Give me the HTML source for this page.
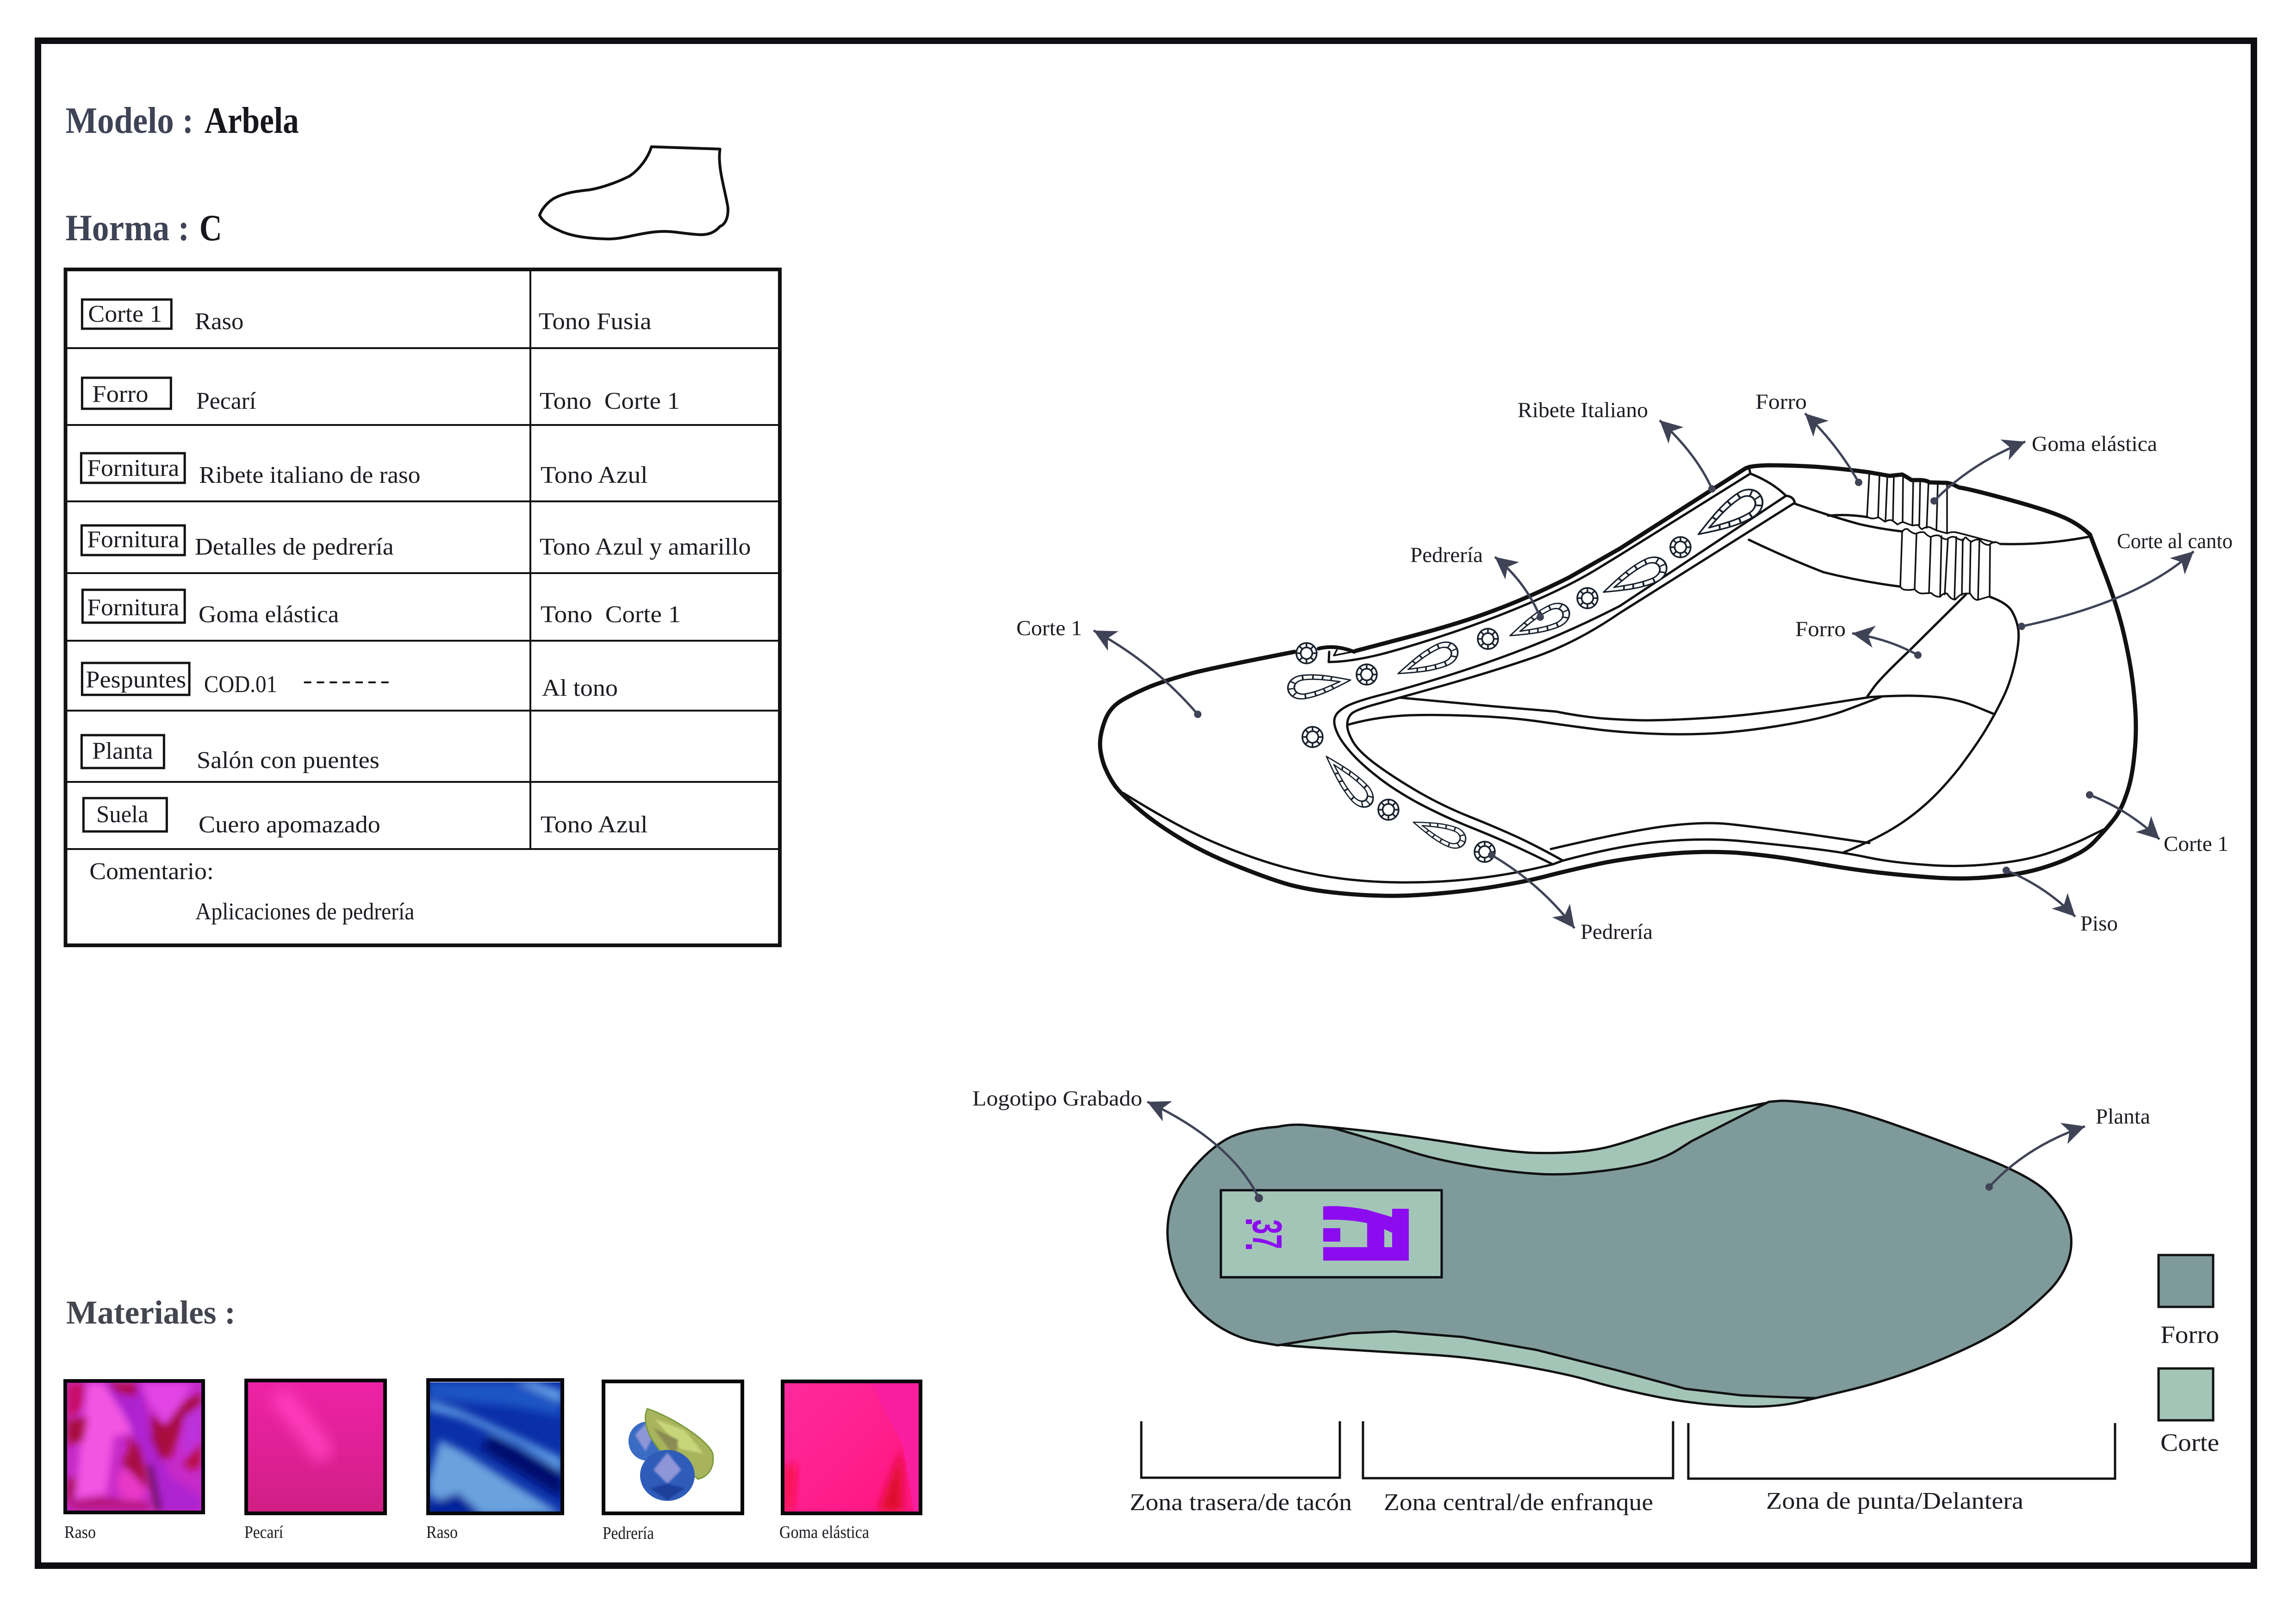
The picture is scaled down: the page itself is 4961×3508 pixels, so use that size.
<!DOCTYPE html>
<html><head><meta charset="utf-8"><title>Arbela</title>
<style>
html,body{margin:0;padding:0;background:#fff}
svg{display:block}
text{font-family:"Liberation Serif",serif;fill:#1c1c22}
.t{font-size:52px}
.l{font-size:47px}
.h{font-size:80px;font-weight:bold;fill:#3f4356}
.m{font-size:38px}
.o{fill:none;stroke:#111;stroke-linecap:round;stroke-linejoin:round;stroke-width:5}
.e{fill:none;stroke:#111;stroke-linecap:round;stroke-linejoin:round;stroke-width:3.5}
.a{fill:none;stroke:#3f4356;stroke-width:5;marker-end:url(#ah)}
.d{fill:#3f4356}
.b{fill:none;stroke:#111;stroke-width:5}
</style></head><body>
<svg xmlns="http://www.w3.org/2000/svg" width="4961" height="3508" viewBox="0 0 4961 3508">
<defs>
<marker id="ah" markerUnits="userSpaceOnUse" markerWidth="60" markerHeight="60" refX="48" refY="28" orient="auto">
<path d="M48,28 L0,4 L13,28 L0,52Z" fill="#3f4356"/>
</marker>
<g id="gem" fill="#fff" stroke="#17202c" stroke-width="3.5">
<circle r="22"/><circle r="12.5"/>
<path d="M12.5,0H22M-12.5,0H-22M0,12.5V22M0,-12.5V-22M9,9L15.5,15.5M-9,9L-15.5,15.5M9,-9L15.5,-15.5M-9,-9L-15.5,-15.5"/>
</g>
<g id="drop" fill="#fff" stroke="#17202c" stroke-width="4" stroke-linejoin="round">
<path d="M0,0 C40,-18 80,-36 118,-36 C165,-34 165,34 118,36 C80,36 40,18 0,0Z"/>
<path fill="none" d="M26,0 C55,-10 85,-22 116,-22 C145,-20 145,20 116,22 C85,22 55,10 26,0Z"/>
<path d="M48,-7L44,-17M68,-14L64,-26M90,-20L88,-33M114,-22V-36M134,-14L146,-24M140,0H154M134,14L146,24M114,22V36M90,20L88,33M68,14L64,26M48,7L44,17"/>
</g>
<filter id="bl" x="-30%" y="-30%" width="160%" height="160%"><feGaussianBlur stdDeviation="9"/></filter>
<filter id="bl2" x="-30%" y="-30%" width="160%" height="160%"><feGaussianBlur stdDeviation="16"/></filter>
<filter id="bl3" x="-30%" y="-30%" width="160%" height="160%"><feGaussianBlur stdDeviation="24"/></filter>
<filter id="bl4" x="-30%" y="-30%" width="160%" height="160%"><feGaussianBlur stdDeviation="2"/></filter>
<linearGradient id="pec" x1="0" y1="0" x2="0" y2="1"><stop offset="0" stop-color="#ee22a6"/><stop offset="1" stop-color="#d01f85"/></linearGradient>
<linearGradient id="gom" x1="0" y1="0" x2="1" y2="1"><stop offset="0" stop-color="#ff2a9c"/><stop offset="1" stop-color="#ff1480"/></linearGradient>
<clipPath id="c1"><rect x="145" y="2987" width="290" height="276"/></clipPath>
<clipPath id="c2"><rect x="536" y="2986" width="292" height="279"/></clipPath>
<clipPath id="c3"><rect x="929" y="2986" width="282" height="279"/></clipPath>
<clipPath id="c5"><rect x="1695" y="2988" width="290" height="277"/></clipPath>
</defs>

<!-- page border -->
<rect x="82" y="88" width="4788" height="3294" fill="none" stroke="#0d0d12" stroke-width="14"/>

<g transform="matrix(.9945 0 0 1 .33 0)">
<!-- headers -->
<text class="h" x="142" y="287" textLength="278" lengthAdjust="spacingAndGlyphs">Modelo :</text>
<text class="h" x="444" y="287" textLength="205" lengthAdjust="spacingAndGlyphs" style="fill:#16161c">Arbela</text>
<text class="h" x="142" y="519" textLength="269" lengthAdjust="spacingAndGlyphs">Horma :</text>
<text class="h" x="433" y="519" textLength="49" lengthAdjust="spacingAndGlyphs" style="fill:#16161c">C</text>

<!-- last -->
<path class="o" style="stroke-width:6" d="M1415,317 L1564,322 C1558,360 1575,410 1581,447 C1583,470 1575,485 1564,489 C1550,505 1535,507 1521,507 C1480,505 1460,497 1422,501 C1380,505 1350,518 1314,516 C1270,515 1235,508 1215,498 C1195,490 1178,478 1172,465 C1178,447 1195,433 1204,428 C1230,415 1255,413 1281,410 C1310,405 1345,392 1368,380 C1390,365 1408,340 1415,317Z"/>

<!-- table -->
<g fill="none" stroke="#111">
<rect x="142" y="582" width="1552" height="1460" stroke-width="8"/>
<path stroke-width="4" d="M142,752H1694M142,918H1694M142,1083H1694M142,1238H1694M142,1384H1694M142,1535H1694M142,1689H1694M142,1834H1694M1152,582V1834"/>
<g stroke-width="5">
<rect x="178" y="647" width="194" height="63"/>
<rect x="178" y="816" width="193" height="67"/>
<rect x="176" y="979" width="225" height="64"/>
<rect x="177" y="1135" width="224" height="64"/>
<rect x="179" y="1274" width="222" height="71"/>
<rect x="178" y="1432" width="233" height="69"/>
<rect x="177" y="1588" width="179" height="71"/>
<rect x="181" y="1724" width="181" height="72"/>
</g>
<path stroke-width="4" stroke-dasharray="16 12" d="M660,1474H847"/>
</g>
<text class="t" x="191" y="695" textLength="161" lengthAdjust="spacingAndGlyphs">Corte 1</text>
<text class="t" x="200" y="868" textLength="122" lengthAdjust="spacingAndGlyphs">Forro</text>
<text class="t" x="189" y="1028" textLength="200" lengthAdjust="spacingAndGlyphs">Fornitura</text>
<text class="t" x="189" y="1182" textLength="200" lengthAdjust="spacingAndGlyphs">Fornitura</text>
<text class="t" x="189" y="1329" textLength="200" lengthAdjust="spacingAndGlyphs">Fornitura</text>
<text class="t" x="186" y="1485" textLength="218" lengthAdjust="spacingAndGlyphs">Pespuntes</text>
<text class="t" x="200" y="1639" textLength="132" lengthAdjust="spacingAndGlyphs">Planta</text>
<text class="t" x="209" y="1776" textLength="113" lengthAdjust="spacingAndGlyphs">Suela</text>
<text class="t" x="423" y="711" textLength="106" lengthAdjust="spacingAndGlyphs">Raso</text>
<text class="t" x="426" y="883" textLength="130" lengthAdjust="spacingAndGlyphs">Pecarí</text>
<text class="t" x="432" y="1043" textLength="481" lengthAdjust="spacingAndGlyphs">Ribete italiano de raso</text>
<text class="t" x="423" y="1198" textLength="432" lengthAdjust="spacingAndGlyphs">Detalles de pedrería</text>
<text class="t" x="431" y="1344" textLength="305" lengthAdjust="spacingAndGlyphs">Goma elástica</text>
<text class="t" x="443" y="1495" textLength="159" lengthAdjust="spacingAndGlyphs">COD.01</text>
<text class="t" x="427" y="1659" textLength="397" lengthAdjust="spacingAndGlyphs">Salón con puentes</text>
<text class="t" x="431" y="1798" textLength="395" lengthAdjust="spacingAndGlyphs">Cuero apomazado</text>
<text class="t" x="1170" y="711" textLength="245" lengthAdjust="spacingAndGlyphs">Tono Fusia</text>
<text class="t" x="1172" y="883" textLength="305" lengthAdjust="spacingAndGlyphs" xml:space="preserve">Tono  Corte 1</text>
<text class="t" x="1174" y="1043" textLength="233" lengthAdjust="spacingAndGlyphs">Tono Azul</text>
<text class="t" x="1172" y="1198" textLength="459" lengthAdjust="spacingAndGlyphs">Tono Azul y amarillo</text>
<text class="t" x="1174" y="1344" textLength="305" lengthAdjust="spacingAndGlyphs" xml:space="preserve">Tono  Corte 1</text>
<text class="t" x="1177" y="1503" textLength="165" lengthAdjust="spacingAndGlyphs">Al tono</text>
<text class="t" x="1174" y="1798" textLength="233" lengthAdjust="spacingAndGlyphs">Tono Azul</text>
<text class="t" x="194" y="1899" textLength="270" lengthAdjust="spacingAndGlyphs">Comentario:</text>
<text class="t" x="424" y="1986" textLength="476" lengthAdjust="spacingAndGlyphs">Aplicaciones de pedrería</text>
</g>

<!-- materials -->
<text x="143" y="2859" textLength="366" lengthAdjust="spacingAndGlyphs" style="font-size:72px;font-weight:bold;fill:#43464f">Materiales :</text>

<g clip-path="url(#c1)">
<g transform="translate(130,2960) scale(.3333)">
<rect x="40" y="80" width="880" height="835" fill="#c62ac8"/>
<g filter="url(#bl3)">
<path d="M180,82 L300,82 L480,400 L350,430 L300,800 L100,830 L130,500Z" fill="#f254e2"/>
<path d="M44,82 L160,82 L140,250 L44,320Z" fill="#c81068"/>
<path d="M44,330 L180,300 L150,460 L44,480Z" fill="#a8083c"/>
<path d="M44,700 L110,700 L80,850 L44,870Z" fill="#a80a48"/>
<path d="M280,82 L520,82 L600,450 L720,700 L920,830 L915,910 L640,910 L560,600 L420,300Z" fill="#ae22d0"/>
<path d="M300,82 L500,82 L490,170 L380,150Z" fill="#b00848"/>
<path d="M520,82 L850,82 L800,200 L680,350 L580,220Z" fill="#e244e4"/>
<path d="M590,280 L680,360 L800,200 L915,150 L915,210 L800,320 L720,560 L650,580 L590,450Z" fill="#a80840"/>
<path d="M800,300 L915,230 L915,440 L800,560Z" fill="#bc30dc"/>
<path d="M800,600 L915,470 L915,620 L840,650Z" fill="#b80a48"/>
<path d="M400,620 L450,500 L440,420 L520,500 L570,780 L450,650Z" fill="#a80a40"/>
<path d="M360,740 L400,630 L460,660 L560,780 L520,850 L410,840Z" fill="#e838c8"/>
<path d="M50,900 L100,840 L250,815 L400,840 L560,850 L590,910Z" fill="#b81480"/>
<path d="M620,910 L560,600 L600,620 L660,910Z" fill="#5a0a30"/>
</g>
</g>
</g>
<rect x="141" y="2983" width="298" height="284" fill="none" stroke="#08080c" stroke-width="8"/>

<g clip-path="url(#c2)">
<rect x="536" y="2986" width="292" height="279" fill="url(#pec)"/>
<path d="M600,3010 C640,3060 680,3100 700,3150" stroke="#ff3cbc" stroke-width="46" fill="none" filter="url(#bl2)"/>
</g>
<rect x="532" y="2982" width="300" height="287" fill="none" stroke="#08080c" stroke-width="8"/>

<g clip-path="url(#c3)">
<rect x="929" y="2986" width="282" height="279" fill="#0a2fa8"/>
<g filter="url(#bl)">
<path d="M925,2986 L1100,2986 L1210,3030 L1210,3060 L1120,3040 L925,3020Z" fill="#1a55c4"/>
<path d="M925,3045 L1000,3065 L1120,3120 L1215,3180 L1215,3150 L1100,3095 L990,3045 L925,3025Z" fill="#5f9ee4"/>
<path d="M925,3200 L950,3110 L1000,3135 L1110,3205 L1215,3270 L1040,3275 L925,3230Z" fill="#6aa2de"/>
<path d="M1110,2984 L1215,3030 L1215,3005 L1150,2984Z" fill="#6aa6ea"/>
<path d="M1040,3130 L1215,3235 L1215,3180 L1060,3100Z" fill="#03116e"/>
<path d="M925,3250 L990,3225 L1040,3270 L925,3275Z" fill="#06209a"/>
</g>
</g>
<rect x="925" y="2981" width="290" height="288" fill="none" stroke="#08080c" stroke-width="8"/>

<rect x="1304" y="2984" width="300" height="285" fill="#fff" stroke="#08080c" stroke-width="8"/>
<ellipse cx="1398" cy="3113" rx="40" ry="42" fill="#3a6cc4"/>
<path d="M1372,3100 L1395,3075 L1412,3100 L1395,3135Z" fill="#8f96d8" filter="url(#bl4)"/>
<path d="M1399,3043 C1450,3060 1530,3110 1540,3140 C1545,3170 1530,3190 1508,3195 C1480,3170 1440,3160 1412,3114 C1395,3090 1390,3060 1399,3043Z" fill="#a8b45c" stroke="#7a9a3c" stroke-width="3"/>
<path d="M1415,3065 L1480,3090 L1520,3140 L1470,3130Z" fill="#c8d67a" filter="url(#bl4)"/>
<path d="M1412,3085 L1465,3110 L1460,3150Z" fill="#8a8c52" filter="url(#bl4)"/>
<ellipse cx="1442" cy="3187" rx="59" ry="55" fill="#2f5cb8"/>
<path d="M1442,3138 L1472,3175 L1442,3205 L1412,3175Z" fill="#8f96d8" filter="url(#bl4)"/>
<path d="M1405,3215 L1442,3205 L1480,3215 L1442,3240Z" fill="#1d3f9a" filter="url(#bl4)"/>

<g clip-path="url(#c5)">
<rect x="1695" y="2988" width="290" height="277" fill="url(#gom)"/>
<path d="M1695,3265 L1695,3170 L1722,3160 L1712,3265Z" fill="#f8104a" filter="url(#bl)"/>
<path d="M1897,3265 L1948,3127 L1952,3265Z" fill="#e00a2e" filter="url(#bl)"/>
<path d="M1880,2988 L1950,3120 L1975,3265 L1985,3265 L1985,2988Z" fill="#f91e9e"/>
</g>
<rect x="1691" y="2984" width="298" height="285" fill="none" stroke="#08080c" stroke-width="8"/>

<text class="m" x="139" y="3322" textLength="68" lengthAdjust="spacingAndGlyphs">Raso</text>
<text class="m" x="528" y="3322" textLength="84" lengthAdjust="spacingAndGlyphs">Pecarí</text>
<text class="m" x="921" y="3322" textLength="68" lengthAdjust="spacingAndGlyphs">Raso</text>
<text class="m" x="1302" y="3324" textLength="111" lengthAdjust="spacingAndGlyphs">Pedrería</text>
<text class="m" x="1684" y="3322" textLength="194" lengthAdjust="spacingAndGlyphs">Goma elástica</text>

<!-- shoe outer -->
<path class="o" style="stroke-width:9" d="M2797,1408 Q2643,1438 2584,1452 Q2526,1467 2485,1483 Q2445,1500 2422,1514 Q2398,1529 2388,1555 Q2378,1581 2377,1603 Q2376,1625 2386,1654 Q2398,1683 2412,1701 Q2427,1720 2462,1749 Q2497,1779 2552,1812 Q2607,1845 2676,1872 Q2746,1900 2786,1911 Q2827,1922 2882,1928 Q2937,1934 2992,1935 Q3047,1936 3120,1929 Q3193,1922 3248,1912 Q3303,1903 3351,1890 Q3399,1878 3450,1867 Q3500,1856 3588,1846 Q3676,1837 3753,1842 Q3830,1848 3914,1863 Q3999,1878 4061,1885 Q4123,1892 4185,1896 Q4248,1900 4306,1894 Q4365,1889 4409,1876 Q4453,1863 4482,1848 Q4512,1834 4530,1813 Q4549,1793 4565,1773 Q4582,1753 4594,1718 Q4607,1683 4612,1628 Q4618,1573 4612,1511 Q4607,1449 4592,1383 Q4578,1317 4547,1236 L4516,1155"/>
<path class="o" style="stroke-width:9" d="M4516,1155 Q4490,1130 4453,1115 Q4417,1100 4336,1078 Q4255,1056 4233,1053 L4219,1046 L4207,1043 L4170,1042 Q4160,1037 4150,1037 L4130,1037 Q4120,1030 4110,1025 Q4100,1026 4083,1028 L4037,1020 Q3977,1012 3920,1008 Q3867,1005 3820,1005 Q3790,1006 3779,1009 L3771,1012 L3702,1056 L3500,1185 L3391,1247 Q3303,1291 3230,1318 Q3157,1346 3043,1376 L2929,1406"/>
<path class="o" style="stroke-width:8" d="M2849,1401 Q2885,1392 2926,1408"/>

<!-- ribete -->
<path class="o" d="M2872,1408 L2871,1430 Q2915,1430 2981,1414 Q3047,1397 3139,1366 Q3230,1335 3311,1300 Q3391,1265 3446,1232 L3500,1199 L3782,1023"/>
<path class="e" d="M2889,1403 L2882,1416 L2922,1408"/>
<path class="o" d="M3779,1009 L3782,1023 Q3830,1042 3859,1071 Q3875,1072 3878,1086"/>
<path class="o" d="M3859,1071 L3500,1309 Q3406,1357 3318,1392 Q3230,1427 3139,1456 Q3047,1485 2988,1500 Q2929,1515 2909,1526 Q2889,1537 2885,1548 Q2880,1559 2887,1577 Q2893,1595 2915,1621 Q2937,1647 2974,1676 Q3010,1705 3065,1735 Q3120,1764 3175,1786 Q3230,1808 3267,1825 Q3303,1841 3355,1867"/>
<path class="o" d="M3878,1086 L3500,1324 Q3410,1386 3320,1418 Q3230,1449 3128,1478 Q3025,1507 2977,1520 Q2929,1533 2920,1542 Q2911,1551 2911,1566 Q2911,1581 2924,1603 Q2937,1625 2977,1654 Q3017,1683 3069,1713 Q3120,1742 3175,1764 Q3230,1786 3274,1806 Q3318,1826 3377,1859"/>

<!-- window lines -->
<path class="o" d="M3025,1507 L3230,1526 L3362,1537 Q3406,1546 3453,1551 Q3500,1555 3555,1556 Q3610,1556 3702,1550 Q3793,1544 3916,1525 L4039,1506 Q4065,1504 4105,1503 Q4145,1502 4189,1506 Q4233,1511 4271,1527 L4310,1543"/>
<path class="o" d="M2911,1566 Q2973,1548 3046,1545 Q3120,1543 3194,1547 Q3267,1550 3329,1559 Q3391,1568 3446,1575 Q3500,1582 3574,1585 Q3647,1588 3720,1583 Q3793,1577 3866,1564 Q3940,1551 3980,1537 Q4021,1522 4065,1505"/>
<path class="o" d="M4248,1284 L4123,1408 Q4065,1463 4050,1483 L4035,1504"/>
<path class="o" d="M4299,1289 Q4336,1302 4347,1320 Q4358,1339 4361,1361 Q4364,1383 4354,1430 Q4343,1478 4326,1511 Q4310,1544 4290,1577 Q4270,1610 4234,1658 Q4197,1705 4160,1738 Q4123,1771 4081,1795 Q4039,1819 3984,1841"/>
<path class="o" d="M3351,1834 Q3500,1799 3588,1786 Q3676,1774 3735,1780 Q3793,1786 3916,1803 L4039,1821"/>
<path class="o" d="M3377,1859 Q3500,1826 3588,1818 Q3676,1810 3753,1816 Q3830,1823 3907,1832 Q3984,1841 4035,1852 Q4087,1863 4160,1868 Q4233,1874 4306,1866 Q4380,1859 4431,1841 Q4483,1823 4516,1806 L4549,1790"/>
<path class="o" d="M2427,1713 Q2533,1779 2606,1812 Q2680,1845 2753,1867 Q2827,1889 2900,1898 Q2973,1907 3046,1906 Q3120,1906 3193,1897 Q3267,1889 3355,1867 L3377,1859"/>

<!-- collar -->
<path class="o" d="M3878,1088 Q3955,1115 4017,1132 Q4060,1142 4110,1148"/>
<path class="o" d="M3950,1114 Q3990,1110 4035,1117"/>
<path class="o" d="M4322,1175 Q4417,1178 4516,1159"/>
<path class="o" d="M3779,1166 Q3860,1205 3940,1236 Q4020,1256 4105,1267"/>

<!-- elastics -->
<path class="e" d="M4035,1117 Q4047,1123 4058,1117 Q4066,1122 4073,1127 Q4081,1122 4088,1124 Q4094,1128 4100,1133 Q4107,1128 4113,1128 Q4122,1132 4132,1135 L4145,1134 Q4150,1143 4153,1143 Q4162,1137 4170,1139 L4185,1146 L4207,1152"/>
<path class="e" d="M4039,1023L4034,1117M4061,1026L4058,1118M4078,1028L4074,1126M4092,1030L4090,1125M4112,1026L4111,1128M4134,1037L4132,1135M4149,1037L4147,1134M4167,1040L4163,1140M4187,1044L4184,1146M4207,1045L4207,1152"/>
<path class="e" d="M4110,1148 Q4116,1141 4122,1143 Q4131,1152 4140,1153 Q4149,1148 4158,1150 Q4165,1158 4172,1160 Q4181,1155 4190,1157 Q4199,1165 4207,1165 Q4215,1158 4223,1160 Q4233,1166 4242,1167 Q4245,1160 4248,1161 Q4254,1168 4260,1170 Q4269,1164 4278,1166 Q4288,1178 4298,1177 Q4306,1170 4313,1171 L4322,1175"/>
<path class="e" d="M4207,1152 Q4217,1148 4227,1150 L4247,1155 L4310,1172"/>
<path class="e" d="M4106,1267 Q4110,1274 4117,1274 Q4127,1275 4137,1273 Q4145,1282 4153,1282 L4173,1281 Q4182,1290 4192,1289 Q4200,1280 4207,1282 Q4216,1296 4225,1295 Q4236,1282 4247,1282 L4257,1282 Q4265,1296 4273,1296 L4283,1293 L4300,1288"/>
<path class="e" d="M4110,1148L4106,1267M4141,1153L4137,1273M4172,1160L4168,1281M4195,1158L4192,1289M4209,1163L4202,1284M4227,1160L4223,1295M4241,1165L4239,1285M4258,1170L4256,1282M4277,1166L4274,1295M4300,1177L4299,1288"/>

<!-- gems -->
<use href="#gem" x="3631" y="1182"/><use href="#gem" x="3430" y="1292"/><use href="#gem" x="3215" y="1380"/>
<use href="#gem" x="2953" y="1457"/><use href="#gem" x="2823" y="1411"/><use href="#gem" x="2836" y="1592"/>
<use href="#gem" x="3000" y="1749"/><use href="#gem" x="3208" y="1840"/>
<use href="#drop" transform="translate(3670,1154) rotate(-31.8) scale(1.03,.85)"/>
<use href="#drop" transform="translate(3465,1279) rotate(-24.5) scale(.96,.75)"/>
<use href="#drop" transform="translate(3263,1373) rotate(-24) scale(.9,.7)"/>
<use href="#drop" transform="translate(3021,1455) rotate(-23) scale(.9,.7)"/>
<use href="#drop" transform="translate(2918,1469) rotate(171.6) scale(.89,.7)"/>
<use href="#drop" transform="translate(2866,1634) rotate(47.8) scale(.92,.65)"/>
<use href="#drop" transform="translate(3054,1776) rotate(21) scale(.78,.62)"/>

<!-- arrows -->
<path class="a" d="M2588,1543 Q2490,1430 2363,1362"/><circle class="d" cx="2588" cy="1543" r="8"/>
<path class="a" d="M3699,1056 Q3665,980 3586,908"/><circle class="d" cx="3699" cy="1056" r="8"/>
<path class="a" d="M4016,1042 Q3970,960 3900,893"/><circle class="d" cx="4016" cy="1042" r="8"/>
<path class="a" d="M4179,1082 Q4260,1000 4376,954"/><circle class="d" cx="4179" cy="1082" r="8"/>
<path class="a" d="M3328,1333 Q3295,1255 3230,1203"/><circle class="d" cx="3328" cy="1333" r="8"/>
<path class="a" d="M4368,1353 Q4620,1300 4740,1191"/><circle class="d" cx="4368" cy="1353" r="8"/>
<path class="a" d="M4144,1415 Q4080,1380 4002,1368"/><circle class="d" cx="4144" cy="1415" r="8"/>
<path class="a" d="M4515,1717 Q4600,1750 4666,1813"/><circle class="d" cx="4515" cy="1717" r="8"/>
<path class="a" d="M4335,1880 Q4420,1915 4484,1980"/><circle class="d" cx="4335" cy="1880" r="8"/>
<path class="a" d="M3223,1847 Q3330,1910 3402,2005"/><circle class="d" cx="3223" cy="1847" r="8"/>

<text class="l" x="3279" y="901" textLength="282" lengthAdjust="spacingAndGlyphs">Ribete Italiano</text>
<text class="l" x="3793" y="883" textLength="111" lengthAdjust="spacingAndGlyphs">Forro</text>
<text class="l" x="4390" y="974" textLength="271" lengthAdjust="spacingAndGlyphs">Goma elástica</text>
<text class="l" x="4574" y="1184" textLength="250" lengthAdjust="spacingAndGlyphs">Corte al canto</text>
<text class="l" x="3047" y="1214" textLength="157" lengthAdjust="spacingAndGlyphs">Pedrería</text>
<text class="l" x="2196" y="1372" textLength="142" lengthAdjust="spacingAndGlyphs">Corte 1</text>
<text class="l" x="3879" y="1374" textLength="109" lengthAdjust="spacingAndGlyphs">Forro</text>
<text class="l" x="4675" y="1838" textLength="140" lengthAdjust="spacingAndGlyphs">Corte 1</text>
<text class="l" x="4495" y="2010" textLength="81" lengthAdjust="spacingAndGlyphs">Piso</text>
<text class="l" x="3415" y="2028" textLength="156" lengthAdjust="spacingAndGlyphs">Pedrería</text>
<text class="l" x="2101" y="2388" textLength="367" lengthAdjust="spacingAndGlyphs">Logotipo Grabado</text>
<text class="l" x="4528" y="2427" textLength="118" lengthAdjust="spacingAndGlyphs">Planta</text>

<!-- sole -->
<path fill="#a3c5b8" stroke="#111" stroke-width="5" stroke-linejoin="round" d="M2818,2430 Q2892,2436 2972,2445 Q3053,2455 3153,2471 Q3253,2487 3306,2490 Q3360,2492 3407,2488 Q3454,2484 3488,2474 Q3521,2465 3588,2441 Q3655,2418 3738,2399 Q3822,2380 3846,2378 Q3869,2377 3930,2385 Q3990,2393 4090,2428 Q4191,2463 4292,2503 Q4392,2543 4425,2577 Q4458,2611 4470,2647 Q4481,2683 4470,2719 Q4458,2755 4432,2783 Q4405,2811 4365,2843 Q4325,2876 4258,2908 Q4191,2940 4124,2964 Q4057,2988 3990,3004 Q3923,3020 3890,3028 Q3856,3036 3812,3038 Q3769,3040 3698,3034 Q3628,3028 3555,3012 Q3481,2996 3434,2982 Q3387,2968 3286,2950 Q3186,2932 3086,2926 Q2986,2920 2874,2913 Q2761,2906 2720,2899 Q2678,2892 2638,2868 Q2597,2843 2570,2807 Q2544,2771 2530,2719 Q2517,2667 2527,2619 Q2537,2571 2580,2521 Q2624,2471 2664,2454 Q2704,2438 2761,2434 Q2789,2428 2818,2430Z"/>
<path fill="#7f9a9b" stroke="#111" stroke-width="5" stroke-linejoin="round" d="M2818,2430 L2878,2436 Q2986,2467 3040,2485 Q3093,2503 3173,2517 Q3253,2531 3314,2535 Q3374,2540 3448,2531 Q3521,2523 3562,2511 Q3602,2499 3628,2482 L3655,2465 L3822,2380 L3846,2378 Q3869,2377 3930,2385 Q3990,2393 4090,2428 Q4191,2463 4292,2503 Q4392,2543 4425,2577 Q4458,2611 4470,2647 Q4481,2683 4470,2719 Q4458,2755 4432,2783 Q4405,2811 4365,2843 Q4325,2876 4258,2908 Q4191,2940 4124,2964 Q4057,2988 3990,3004 L3923,3020 Q3840,3018 3762,3014 Q3702,3007 3642,3000 Q3568,2980 3494,2960 Q3407,2938 3320,2916 Q3240,2902 3160,2888 Q3086,2882 3012,2876 Q2965,2878 2919,2880 L2761,2906 L2720,2899 Q2678,2892 2638,2868 Q2597,2843 2570,2807 Q2544,2771 2530,2719 Q2517,2667 2527,2619 Q2537,2571 2580,2521 Q2624,2471 2664,2454 Q2704,2438 2761,2434 Q2789,2428 2818,2430Z"/>

<rect x="2638" y="2571" width="477" height="188" fill="#a3c5b8" stroke="#0a0a12" stroke-width="5"/>
<path fill="#8c0cf0" fill-rule="evenodd" d="M2859,2606 Q2900,2603 2953,2613 L3008,2629 L3008,2611 L3044,2611 L3044,2723 L2859,2723 L2859,2694 L2954,2694 L2954,2642 Q2910,2633 2859,2635Z M2991,2655 L3008,2663 L3008,2694 L2991,2694Z"/>
<rect x="2859" y="2653" width="37" height="29" fill="#8c0cf0"/>
<text transform="translate(2707,2634) rotate(90)" textLength="64" lengthAdjust="spacingAndGlyphs" style="font-family:'Liberation Sans',sans-serif;font-weight:bold;font-size:90px;fill:#8c0cf0">37</text>
<rect x="2692" y="2634" width="13" height="10" fill="#8c0cf0"/>
<rect x="2692" y="2688" width="13" height="10" fill="#8c0cf0"/>

<path class="a" d="M2720,2588 Q2660,2465 2479,2380"/><circle class="d" cx="2720" cy="2588" r="9"/>
<path class="a" d="M4298,2564 Q4380,2475 4505,2433"/><circle class="d" cx="4298" cy="2564" r="8"/>

<rect x="4664" y="2711" width="118" height="112" fill="#7f9a9b" stroke="#111" stroke-width="5"/>
<rect x="4664" y="2956" width="118" height="112" fill="#a3c5b8" stroke="#111" stroke-width="5"/>
<text class="l" x="4668" y="2901" textLength="127" lengthAdjust="spacingAndGlyphs" style="font-size:54px">Forro</text>
<text class="l" x="4668" y="3134" textLength="127" lengthAdjust="spacingAndGlyphs" style="font-size:54px">Corte</text>

<path class="b" d="M2466,3070V3192H2895V3070"/>
<path class="b" d="M2945,3070V3193H3615V3070"/>
<path class="b" d="M3648,3074V3194H4570V3074"/>
<text class="t" x="2441" y="3262" textLength="480" lengthAdjust="spacingAndGlyphs">Zona trasera/de tacón</text>
<text class="t" x="2990" y="3262" textLength="582" lengthAdjust="spacingAndGlyphs">Zona central/de enfranque</text>
<text class="t" x="3816" y="3259" textLength="556" lengthAdjust="spacingAndGlyphs">Zona de punta/Delantera</text>
</svg>
</body></html>
